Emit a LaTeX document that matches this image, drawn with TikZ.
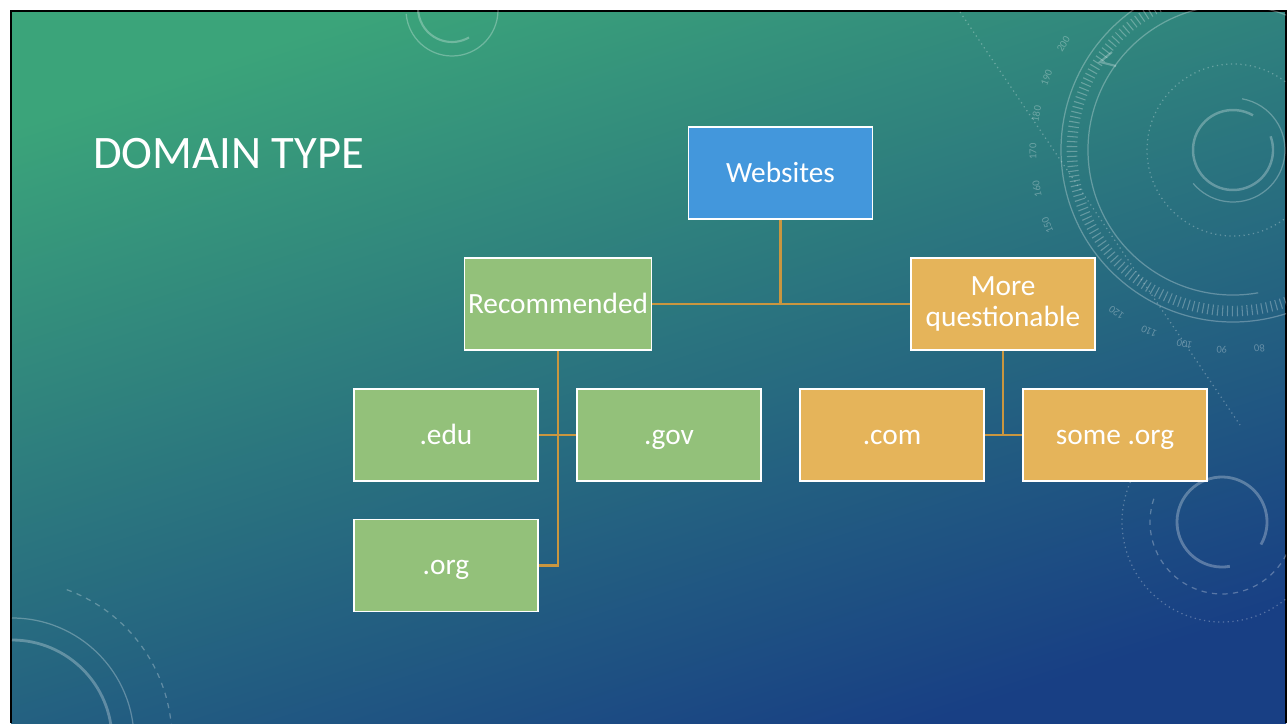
\documentclass[tikz,border=0pt]{standalone}
\usepackage{fontspec}
\setmainfont{Carlito}
\definecolor{bgtop}{HTML}{3BA47A}
\definecolor{bgmid}{HTML}{2A7F86}
\definecolor{bgbot}{HTML}{183F84}
\definecolor{webblue}{HTML}{4397DC}
\definecolor{recgreen}{HTML}{93C17A}
\definecolor{moregold}{HTML}{E5B45A}
\definecolor{linkgold}{HTML}{C9963F}
\usetikzlibrary{positioning}
\tikzset{
  box/.style={draw=white, line width=1.1pt, minimum width=3.68cm, minimum height=1.84cm,
    inner sep=2pt, text=white, align=center, font=\fontsize{16.7}{17.6}\selectfont},
  oneline/.style={text height=14pt, text depth=3.2pt},
  webbox/.style={box, oneline, fill=webblue},
  recbox/.style={box, oneline, fill=recgreen},
  morebox/.style={box, oneline, fill=moregold},
  deco/.style={draw=white, opacity=.28, line width=.7pt},
  dialnum/.style={text=white, opacity=.3, font=\fontsize{6}{6}\selectfont, inner sep=0pt},
  link/.style={draw=linkgold, line width=1.2pt}
}
\begin{document}
\begin{tikzpicture}[x=0.02cm,y=-0.02cm]
\useasboundingbox (0,0) rectangle (1287,723);
% slide background
\fill[white] (0,0) rectangle (1287,723);
\shade[top color=bgtop, middle color=bgmid, bottom color=bgbot, shading angle=18] (11,11) rectangle (1286,723);
\draw[black, line width=1.2pt] (11,723) -- (11,11) -- (1286,11) -- (1286,723);

% background rings
\begin{scope}
  \clip (11,11) rectangle (1286,723);
  % top right dial
  \coordinate (dial) at (1233,150);
  \draw[deco, line width=1.4pt] (dial) ++(-20:40) arc (-20:300:40);
  \draw[deco] (dial) ++(-80:52) arc (-80:140:52);
  \draw[deco, dotted] (dial) circle (86);
  \draw[deco] (dial) ++(80:145) arc (80:300:145);
  \draw[deco] (dial) ++(40:172) arc (40:330:172);
  \draw[deco, line width=6pt, dash pattern=on .6pt off 2.2pt] (dial) ++(20:161) arc (20:340:161);
  \draw[deco, dotted] (960,12) -- (1240,425);
  \draw[deco, line width=1.2pt] (1112,52) -- (1100,62) -- (1116,66);
  \foreach \n in {80,90,100,110,120,150,160,170,180,190,200}
    \node[dialnum, rotate={-(1.08*\n-4)-90}] at ([shift={({1.08*\n-4}:200)}]dial) {\n};
  % top middle
  \draw[deco] (452,10) ++(0:46) arc (0:175:46);
  \draw[deco, line width=1.2pt] (452,8) ++(60:34) arc (60:180:34);
  % bottom right
  \draw[deco, line width=1.6pt] (1222,522) ++(80:45) arc (80:390:45);
  \draw[deco, dashed] (1222,522) ++(10:72) arc (10:200:72);
  \draw[deco, dotted] (1222,522) ++(10:100) arc (10:210:100);
  % bottom left
  \draw[deco, line width=1.6pt] (12,740) ++(-90:100) arc (-90:0:100);
  \draw[deco] (12,740) ++(-90:122) arc (-90:0:122);
  \draw[deco, dashed] (12,740) ++(-70:160) arc (-70:0:160);
\end{scope}

% title
\node (title) [anchor=base west, text=white, font=\fontsize{26.5}{30}\selectfont] at (87,168) {DOMAIN TYPE};

% hierarchy
\node (web) [webbox] at (780.5,173) {Websites};
\node (rec) [recbox] at (558,304) {Recommended};
\node (more) [box, fill=moregold] at (1003,304) {More\\questionable};
\node (edu) [recbox] at (446,435) {.edu};
\node (gov) [recbox] at (669,435) {.gov};
\node (org) [recbox] at (446,565.5) {.org};
\node (com) [morebox] at (892,435) {.com};
\node (someorg) [morebox] at (1115,435) {some .org};

\draw[link] (web.south) -- (web.south |- rec.east);
\draw[link] (rec.east) -- (more.west);
\draw[link] (rec.south) |- (org.east);
\draw[link] (edu.east) -- (gov.west);
\draw[link] (more.south) -- (more.south |- com.east);
\draw[link] (com.east) -- (someorg.west);
\end{tikzpicture}
\end{document}
